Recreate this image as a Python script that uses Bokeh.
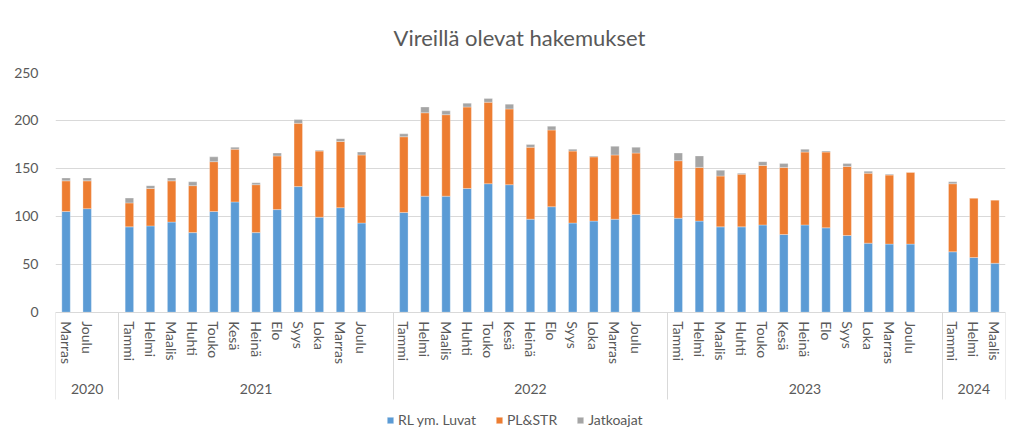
from bokeh.plotting import figure
from bokeh.models import ColumnDataSource, FixedTicker, LinearAxis, Range1d, Legend, LegendItem
from bokeh.embed import file_html
from bokeh.resources import INLINE

title_text = "Vireillä olevat hakemukset"

years = (["2020"] * 2 + ["2021"] * 12 + ["2022"] * 12 + ["2023"] * 12 + ["2024"] * 3)
months = (["Marras", "Joulu"]
          + ["Tammi", "Helmi", "Maalis", "Huhti", "Touko", "Kesä", "Heinä", "Elo", "Syys", "Loka", "Marras", "Joulu"]
          + ["Tammi", "Helmi", "Maalis", "Huhti", "Touko", "Kesä", "Heinä", "Elo", "Syys", "Loka", "Marras", "Joulu"]
          + ["Tammi", "Helmi", "Maalis", "Huhti", "Touko", "Kesä", "Heinä", "Elo", "Syys", "Loka", "Marras", "Joulu"]
          + ["Tammi", "Helmi", "Maalis"])

rl_luvat = [105, 108,
            89, 90, 94, 83, 105, 115, 83, 107, 131, 99, 109, 93,
            104, 121, 121, 129, 134, 133, 97, 110, 93, 95, 97, 102,
            98, 95, 89, 89, 91, 81, 91, 88, 80, 72, 71, 71,
            63, 57, 51]
pl_str = [32, 29,
          25, 39, 43, 49, 52, 55, 50, 56, 66, 69, 69, 71,
          79, 87, 85, 85, 85, 79, 75, 80, 75, 67, 67, 64,
          60, 56, 53, 55, 62, 70, 76, 79, 72, 73, 72, 75,
          71, 62, 66]
jatkoajat = [3, 3,
             5, 3, 3, 4, 5, 2, 2, 3, 4, 1, 3, 3,
             3, 6, 4, 4, 4, 5, 3, 4, 2, 1, 9, 6,
             8, 12, 6, 1, 4, 4, 3, 1, 3, 2, 1, 0,
             2, 0, 0]

series_names = ["RL ym. Luvat", "PL&STR", "Jatkoajat"]
colors = ["#5B9BD5", "#ED7D31", "#A5A5A5"]
y_ticks = [0, 50, 100, 150, 200, 250]

TEXT = "#595959"
GRID = "#D9D9D9"
FONT = "Lato"

# one empty slot after every year group except the last
year_order = []
for y in years:
    if y not in year_order:
        year_order.append(y)
pos = [i + year_order.index(y) for i, y in enumerate(years)]

bounds = []
centers = []
for g, y in enumerate(year_order):
    ps = [p for p, yy in zip(pos, years) if yy == y]
    start = ps[0] - 0.5
    end = ps[-1] + (1.5 if g < len(year_order) - 1 else 0.5)
    bounds += [start, end]
    centers.append((start + end) / 2)
bounds = sorted(set(bounds))

src = ColumnDataSource(dict(x=pos, rl=rl_luvat, pl=pl_str, jt=jatkoajat))

# frame reaches the bottom of the canvas; the category labels sit below y = 0
p = figure(width=1012, height=444, output_backend="svg", toolbar_location=None,
           x_range=Range1d(bounds[0], bounds[-1]), y_range=Range1d(-138, 250),
           min_border_left=55, min_border_right=7, min_border_top=70, min_border_bottom=0,
           tools="")
p.outline_line_color = None

p.title.text = title_text
p.title.align = "left"
p.title.offset = 338
p.title.text_font = FONT
p.title.text_font_size = "22px"
p.title.text_font_style = "normal"
p.title.text_color = TEXT
p.title.standoff = 43

renderers = p.vbar_stack(["rl", "pl", "jt"], x="x", width=0.4, color=colors, source=src,
                         line_color="white", line_width=0.6, line_alpha=0.5)

p.yaxis.ticker = FixedTicker(ticks=y_ticks)
p.yaxis.axis_line_color = None
p.yaxis.major_tick_line_color = None
p.yaxis.minor_tick_line_color = None
p.yaxis.major_label_text_font = FONT
p.yaxis.major_label_text_font_size = "14px"
p.yaxis.major_label_text_color = TEXT
p.yaxis.major_label_standoff = 11
p.ygrid.grid_line_color = GRID
p.ygrid.ticker = FixedTicker(ticks=y_ticks)
p.xgrid.visible = False

# month labels
xa = p.xaxis[0]
xa.fixed_location = 0
xa.ticker = FixedTicker(ticks=pos, minor_ticks=[])
xa.major_label_overrides = {pp: m for pp, m in zip(pos, months)}
xa.major_label_orientation = "vertical"
xa.major_label_text_font = FONT
xa.major_label_text_font_size = "14px"
xa.major_label_text_color = TEXT
xa.major_label_standoff = 9
xa.major_tick_out = 0
xa.major_tick_in = 0
xa.minor_tick_line_color = None
xa.major_tick_line_color = None
xa.axis_line_color = GRID

# year labels
ya = LinearAxis(ticker=FixedTicker(ticks=centers, minor_ticks=[]),
                major_label_overrides={c: y for c, y in zip(centers, year_order)},
                fixed_location=0)
ya.axis_line_color = None
ya.major_tick_line_color = None
ya.minor_tick_line_color = None
ya.major_tick_out = 0
ya.major_tick_in = 0
ya.major_label_text_font = FONT
ya.major_label_text_font_size = "14px"
ya.major_label_text_color = TEXT
ya.major_label_standoff = 72
p.add_layout(ya, "below")

# group separators running through both label rows
sa = LinearAxis(ticker=FixedTicker(ticks=[], minor_ticks=bounds), fixed_location=0)
sa.axis_line_color = None
sa.major_tick_line_color = None
sa.major_tick_in = 0
sa.major_tick_out = 0
sa.minor_tick_in = 0
sa.minor_tick_out = 87
sa.minor_tick_line_color = GRID
p.add_layout(sa, "below")

legend = Legend(items=[LegendItem(label=n, renderers=[r]) for n, r in zip(series_names, renderers)],
                orientation="horizontal", location=(331, 16))
legend.border_line_color = None
legend.background_fill_alpha = 0
legend.label_text_font = FONT
legend.label_text_font_size = "14px"
legend.label_text_color = TEXT
legend.glyph_width = 8
legend.glyph_height = 8
legend.label_standoff = 4
legend.spacing = 19
legend.padding = 4
legend.margin = 0
p.add_layout(legend, "center")

open("out.html", "w").write(file_html(p, INLINE))
